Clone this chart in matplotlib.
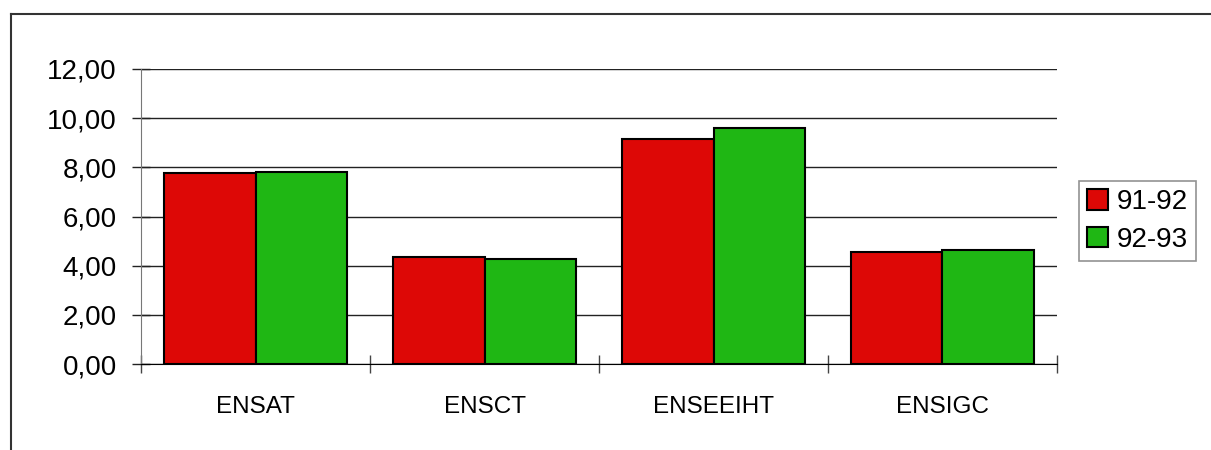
import matplotlib
matplotlib.use('Agg')
import matplotlib.pyplot as plt
from matplotlib.lines import Line2D
from matplotlib.ticker import FuncFormatter, FixedLocator
import numpy as np

# Data
categories = ['ENSAT', 'ENSCT', 'ENSEEIHT', 'ENSIGC']
series_names = ['91-92', '92-93']
vals_9192 = [7.77, 4.34, 9.17, 4.54]
vals_9293 = [7.82, 4.28, 9.61, 4.62]
colors = ['#DD0806', '#1FB714']

plt.rcParams['font.family'] = ['Liberation Sans', 'DejaVu Sans']

fig = plt.figure(figsize=(12.11, 4.5), dpi=100)
ax = fig.add_axes([141 / 1211, 86 / 450, 916 / 1211, 295 / 450])

x = np.arange(len(categories))
w = 0.4
for i, (vals, name) in enumerate(zip([vals_9192, vals_9293], series_names)):
    ax.bar(x - w / 2 + i * w, vals, width=w, color=colors[i], edgecolor='black',
           linewidth=1.5, label=name, zorder=3)

ax.set_xlim(-0.5, len(categories) - 0.5)
ax.set_ylim(0, 12)
ax.set_yticks(np.arange(0, 13, 2))
ax.yaxis.set_major_formatter(FuncFormatter(lambda v, p: f'{v:.2f}'.replace('.', ',')))
ax.yaxis.grid(True, color='#222222', linewidth=1, zorder=0)

# category labels at centres, tick marks between categories
ax.set_xticks(x)
ax.set_xticklabels(categories, fontsize=17.5)
ax.xaxis.set_minor_locator(FixedLocator(np.arange(-0.5, len(categories), 1.0)))
ax.tick_params(axis='x', which='major', length=0, pad=23)
ax.tick_params(axis='x', which='minor', direction='inout', length=13, width=1, color='#444444')
ax.tick_params(axis='y', direction='inout', length=13, width=1, color='#222222', labelsize=20, pad=11)

for s in ['top', 'right']:
    ax.spines[s].set_visible(False)
ax.spines['left'].set_color('#777777')
ax.spines['bottom'].set_color('black')
ax.spines['bottom'].set_zorder(4)

leg = fig.legend(loc='upper left', bbox_to_anchor=(1079 / 1211, 1 - 181 / 450),
                 fontsize=20, frameon=True, fancybox=False, edgecolor='#777777',
                 handlelength=0.75, handleheight=0.75, handletextpad=0.3,
                 labelspacing=0.42, borderpad=0.3, borderaxespad=0)
leg.get_frame().set_linewidth(1.2)

# outer chart frame (top and left edges visible)
fig.add_artist(Line2D([11 / 1211, 1], [1 - 14 / 450, 1 - 14 / 450], color='#333333', linewidth=1.5))
fig.add_artist(Line2D([11 / 1211, 11 / 1211], [0, 1 - 14 / 450], color='#333333', linewidth=1.5))

fig.savefig('out.png', dpi=100)
